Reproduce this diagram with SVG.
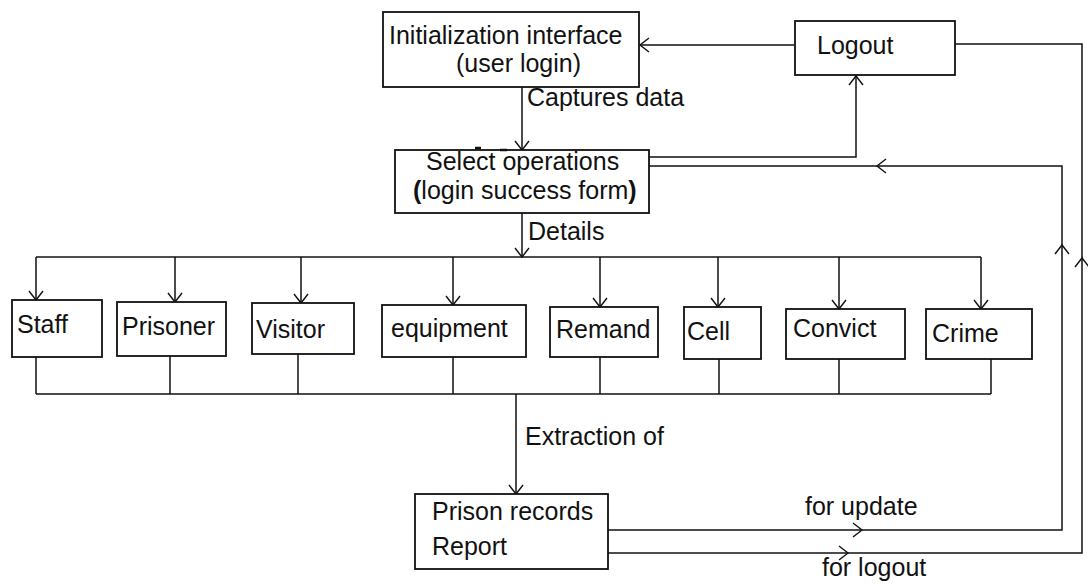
<svg xmlns="http://www.w3.org/2000/svg" width="1088" height="585" viewBox="0 0 1088 585">
<style>
.box{fill:#fff;stroke:#111;stroke-width:1.8}
.ln{fill:none;stroke:#111;stroke-width:1.5}
.ar{marker-end:url(#a)}
text{font-family:"Liberation Sans",Arial,sans-serif;font-size:25px;fill:#111}
</style>
<defs>
<marker id="a" markerUnits="userSpaceOnUse" markerWidth="20" markerHeight="20" refX="0" refY="0" orient="auto" overflow="visible">
<path d="M-9,-7 L0,0 L-9,7" fill="none" stroke="#111" stroke-width="1.4"/>
</marker>
</defs>
<rect width="1088" height="585" fill="#fff"/>
<g id="connectors">
<path class="ln ar" d="M794,45 L640,45"/>
<path class="ln ar" d="M522,87 L522,150"/>
<path class="ln ar" d="M649,157 L856,157 L856,76"/>
<path class="ln ar" d="M608,530 L862,530"/>
<path class="ln ar" d="M862,530 L1062,530 L1062,245"/>
<path class="ln ar" d="M1062,245 L1062,166 L877,166"/>
<path class="ln" d="M877,166 L649,166"/>
<path class="ln ar" d="M608,553 L848,553"/>
<path class="ln ar" d="M848,553 L1082,553 L1082,258"/>
<path class="ln" d="M1082,258 L1082,44 L955,44"/>
<path class="ln ar" d="M522,213 L522,257"/>
<path class="ln" d="M36,257 L981,257"/>
<path class="ln ar" d="M36,257 L36,300"/>
<path class="ln ar" d="M175,257 L175,302"/>
<path class="ln ar" d="M301,257 L301,303"/>
<path class="ln ar" d="M453,257 L453,305"/>
<path class="ln ar" d="M600,257 L600,307"/>
<path class="ln ar" d="M718,257 L718,307"/>
<path class="ln ar" d="M839,257 L839,309"/>
<path class="ln ar" d="M981,257 L981,309"/>
<path class="ln" d="M36,394 L991,394"/>
<path class="ln" d="M36,357 L36,394 M170,356 L170,394 M298,354 L298,394 M453,357 L453,394 M600,357 L600,394 M719,359 L719,394 M839,359 L839,394 M991,359 L991,394"/>
<path class="ln ar" d="M516,394 L516,494"/>
</g>
<g id="init">
<rect class="box" x="383" y="12" width="256" height="75"/>
<text x="389" y="44" font-size="26">Initialization interface</text>
<text x="456" y="72">(user login)</text>
</g>
<g id="logout">
<rect class="box" x="795" y="21" width="160" height="54"/>
<text x="817" y="54">Logout</text>
</g>
<g id="select">
<rect class="box" x="395" y="150" width="254" height="63"/>
<path d="M475,148 L481,148 M500,150 L507,150" stroke="#111" stroke-width="2.5"/>
<text x="426" y="170" font-size="24">Select operations</text>
<text x="413" y="199" font-size="24"><tspan font-weight="bold">(</tspan>login success form<tspan font-weight="bold">)</tspan></text>
</g>
<g id="labels">
<text x="527" y="106">Captures data</text>
<text x="528" y="240">Details</text>
<text x="525" y="445">Extraction of</text>
<text x="805" y="515">for update</text>
<text x="822" y="576">for logout</text>
</g>
<g id="staff"><rect class="box" x="12" y="300" width="90" height="57"/><text x="17" y="333">Staff</text></g>
<g id="prisoner"><rect class="box" x="117" y="302" width="109" height="54"/><text x="122" y="335">Prisoner</text></g>
<g id="visitor"><rect class="box" x="252" y="303" width="102" height="51"/><text x="256" y="338">Visitor</text></g>
<g id="equipment"><rect class="box" x="382" y="305" width="144" height="52"/><text x="391" y="337">equipment</text></g>
<g id="remand"><rect class="box" x="550" y="307" width="108" height="50"/><text x="556" y="338">Remand</text></g>
<g id="cell"><rect class="box" x="684" y="307" width="77" height="52"/><text x="687" y="340">Cell</text></g>
<g id="convict"><rect class="box" x="786" y="309" width="119" height="50"/><text x="793" y="337">Convict</text></g>
<g id="crime"><rect class="box" x="926" y="309" width="106" height="50"/><text x="932" y="342">Crime</text></g>
<g id="report">
<rect class="box" x="415" y="494" width="193" height="75"/>
<text x="432" y="520">Prison records</text>
<text x="432" y="555">Report</text>
</g>
</svg>
